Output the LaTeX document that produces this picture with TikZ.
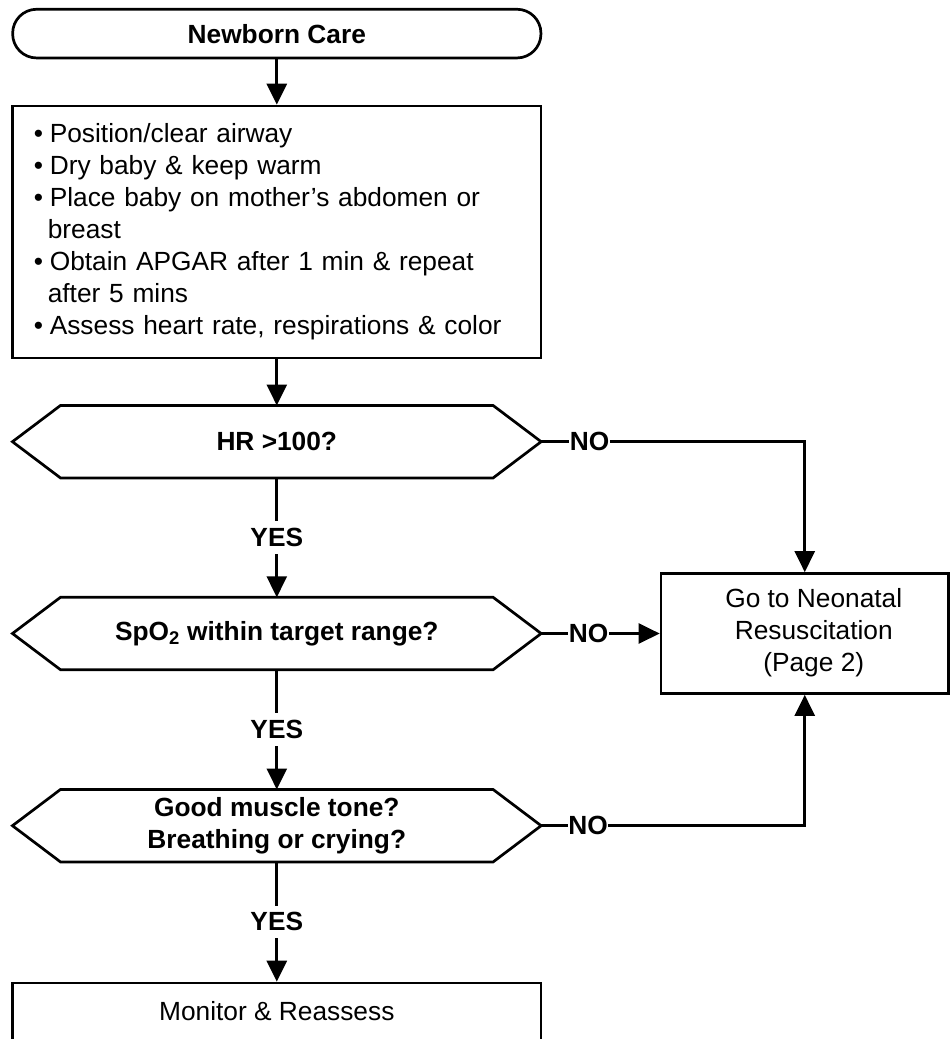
\documentclass[tikz,border=0pt]{standalone}
\usepackage{fontspec}
\setmainfont{Liberation Sans}
\usetikzlibrary{arrows.meta,calc}
\newcommand\hexoutline[1]{%
  \draw[ln] (#1.west) -- ([xshift=48pt]#1.north west) -- ([xshift=-48pt]#1.north east)
    -- (#1.east) -- ([xshift=-48pt]#1.south east) -- ([xshift=48pt]#1.south west) -- cycle;}
\newcommand\bul{\makebox[16pt][l]{•}}
\newcommand\cont{\hspace*{14pt}}
\begin{document}
\begin{tikzpicture}[x=1pt,y=-1pt,
  every node/.style={font=\fontsize{26.3}{32}\selectfont},
  ln/.style={line width=2.7pt},
  arr/.style={ln,-{Triangle[length=21pt,width=20pt]}},
  termst/.style={draw,ln,rounded corners=24pt,minimum width=528.3pt,minimum height=48.7pt,inner sep=0pt,font=\fontsize{26.3}{32}\selectfont\bfseries},
  boxst/.style={draw,ln,minimum width=528.3pt,inner sep=0pt},
  hexst/.style={minimum width=528.3pt,minimum height=72pt,inner sep=0pt,align=center,font=\fontsize{26.3}{32}\selectfont\bfseries},
  lab/.style={fill=white,font=\fontsize{26.3}{32}\selectfont\bfseries},
  yes/.style={lab,inner xsep=2pt,inner ysep=7pt},
  no/.style={lab,inner xsep=0.5pt,inner ysep=3pt},
]
\useasboundingbox (0,0) rectangle (951,1039);

\node[termst] (term) at (276.8,33.6) {Newborn Care};

\node[boxst, minimum height=252pt, text width=486pt, inner xsep=21.2pt, align=left] (care) at (276.8,232)
{\bul Position/clear airway\\
 \bul Dry baby \& keep warm\\
 \bul Place baby on mother’s abdomen or\\
 \cont breast\\
 \bul Obtain APGAR after 1 min \& repeat\\
 \cont after 5 mins\\
 \bul Assess heart rate, respirations \& color};

\node[hexst] (h1) at (276.8,441.7) {HR >100?};
\node[hexst] (h2) at (276.8,633.5) {SpO\textsubscript{2} within target range?};
\node[hexst] (h3) at (276.8,825.7) {Good muscle tone?\\Breathing or crying?};
\hexoutline{h1}
\hexoutline{h2}
\hexoutline{h3}

\node[boxst, minimum width=287.5pt, minimum height=120pt] (go) at (804.75,633.5)
  {\hspace*{18pt}\begin{tabular}{@{}c@{}}Go to Neonatal\\Resuscitation\\(Page 2)\end{tabular}};

\node[boxst, anchor=north, inner ysep=0pt, text height=37.7pt, text depth=30pt] (mon) at (276.8,981.7) {Monitor \& Reassess};

\draw[arr] (term.south) -- (care.north);
\draw[arr] (care.south) -- (h1.north);
\draw[arr] (h1.south) -- node[yes]{YES} (h2.north);
\draw[arr] (h2.south) -- node[yes]{YES} (h3.north);
\draw[arr] (h3.south) -- node[yes]{YES} (mon.north);
\draw[arr] (h1.east) -- node[no,pos=0.184]{NO} (h1.east -| go.north) -- (go.north);
\draw[arr] (h2.east) -- node[no,pos=0.4]{NO} (go.west);
\draw[arr] (h3.east) -- node[no,pos=0.178]{NO} (h3.east -| go.south) -- (go.south);
\end{tikzpicture}
\end{document}
